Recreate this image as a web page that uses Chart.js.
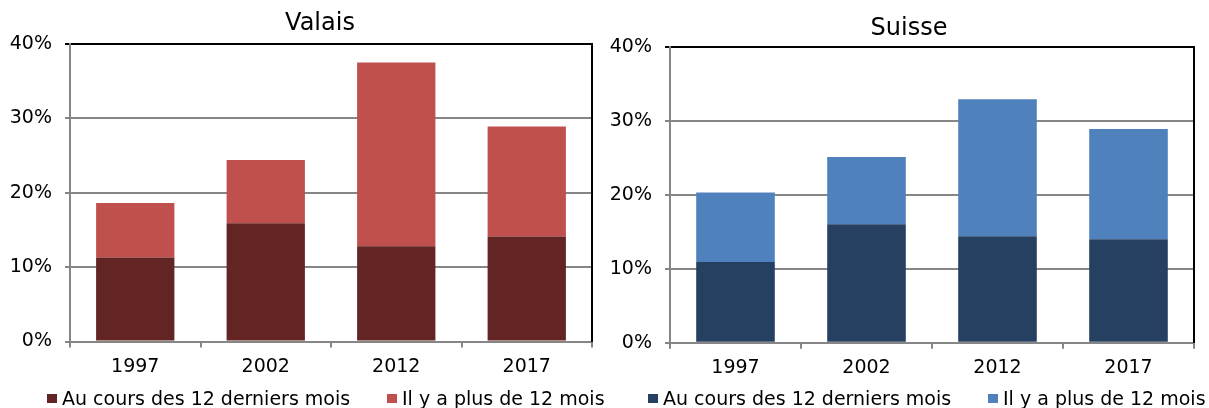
<!DOCTYPE html>
<html>
<head>
<meta charset="utf-8">
<script src="https://cdn.jsdelivr.net/npm/chart.js@4.4.1/dist/chart.umd.min.js"></script>
<style>
  html, body { margin: 0; padding: 0; background: #fff; overflow: hidden; width: 1209px; height: 408px; }
  canvas { position: absolute; top: 0; }
  .legend { position: absolute; top: 386.7px; display: flex; font-family: "DejaVu Sans", sans-serif;
            font-size: 19px; line-height: 22px; color: #000; white-space: nowrap; }
  .legend .item { width: 340px; display: flex; align-items: flex-start; }
  .legend .box { width: 10px; height: 9px; margin-top: 7.3px; margin-right: 5px; flex: none; }
</style>
</head>
<body>
<canvas id="valais" width="640" height="408" style="left:0px"></canvas>
<canvas id="suisse" width="618" height="408" style="left:600px"></canvas>
<div class="legend" id="legend-valais" style="left:47px"></div>
<div class="legend" id="legend-suisse" style="left:648px"></div>
<script>
// Années d'enquête
const categories = ['1997', '2002', '2012', '2017'];
const seriesNames = ['Au cours des 12 derniers mois', 'Il y a plus de 12 mois'];

// Valais (en %)
const valaisRecent = [11.3, 15.9, 12.8, 14.1];
const valaisEarlier = [7.3, 8.5, 24.7, 14.8];

// Suisse (en %)
const suisseRecent = [10.9, 16.0, 14.4, 14.0];
const suisseEarlier = [9.4, 9.1, 18.5, 14.9];

// Graduations de l'axe vertical
const yTicks = [0, 10, 20, 30, 40];

const FONT = 'DejaVu Sans';
const GRID = '#868686';

function buildChart(canvasId, legendId, title, recent, earlier, colors, geom) {
  const chart = new Chart(document.getElementById(canvasId), {
    type: 'bar',
    data: {
      labels: categories,
      datasets: [
        { label: seriesNames[0], data: recent, backgroundColor: colors[0], borderWidth: 0 },
        { label: seriesNames[1], data: earlier, backgroundColor: colors[1], borderWidth: 0 }
      ]
    },
    options: {
      responsive: false,
      animation: false,
      events: [],
      devicePixelRatio: 1,
      layout: { padding: 0 },
      datasets: { bar: { categoryPercentage: 1.0, barPercentage: 0.6 } },
      plugins: {
        legend: { display: false },
        tooltip: { enabled: false },
        title: {
          display: true,
          text: title,
          color: '#000',
          font: { family: FONT, size: 24, weight: 'normal' },
          padding: geom.titlePad
        }
      },
      scales: {
        x: {
          stacked: true,
          grid: { drawOnChartArea: false, drawTicks: true, tickLength: 6, color: GRID, lineWidth: 2, offset: true },
          border: { color: GRID, width: 2 },
          ticks: { color: '#000', font: { family: FONT, size: 19 }, padding: geom.xPad },
          afterFit: s => { s.height = geom.xAxisH; }
        },
        y: {
          stacked: true,
          min: yTicks[0],
          max: yTicks[yTicks.length - 1],
          afterBuildTicks: s => { s.ticks = yTicks.map(v => ({ value: v })); },
          grid: {
            color: c => (c.tick && c.tick.value === yTicks[yTicks.length - 1]) ? '#000' : GRID,
            lineWidth: 2, tickLength: 5, drawTicks: true
          },
          border: { color: GRID, width: 2 },
          ticks: { color: '#000', font: { family: FONT, size: 19 }, padding: 13, callback: v => v + '%' },
          afterFit: s => { s.width = geom.axisW; }
        },
        frame: {
          position: 'right',
          display: true,
          min: yTicks[0],
          max: yTicks[yTicks.length - 1],
          grid: { drawOnChartArea: false, drawTicks: false },
          border: { color: '#000', width: 2 },
          ticks: { display: false },
          afterFit: s => { s.width = geom.rightW; }
        }
      }
    }
  });

  // Légende HTML construite à partir des séries du graphique
  const legend = document.getElementById(legendId);
  chart.data.datasets.forEach(ds => {
    const item = document.createElement('div');
    item.className = 'item';
    const box = document.createElement('span');
    box.className = 'box';
    box.style.background = ds.backgroundColor;
    const txt = document.createElement('span');
    txt.textContent = ds.label;
    item.appendChild(box);
    item.appendChild(txt);
    legend.appendChild(item);
  });
  return chart;
}

buildChart('valais', 'legend-valais', 'Valais', valaisRecent, valaisEarlier,
  ['#632523', '#C0504D'],
  { axisW: 70, rightW: 48, titlePad: { top: 9, bottom: 6 }, xAxisH: 66.5, xPad: 8 });

buildChart('suisse', 'legend-suisse', 'Suisse', suisseRecent, suisseEarlier,
  ['#254061', '#4F81BD'],
  { axisW: 70, rightW: 24, titlePad: { top: 14, bottom: 4 }, xAxisH: 65.3, xPad: 8 });
</script>
</body>
</html>
